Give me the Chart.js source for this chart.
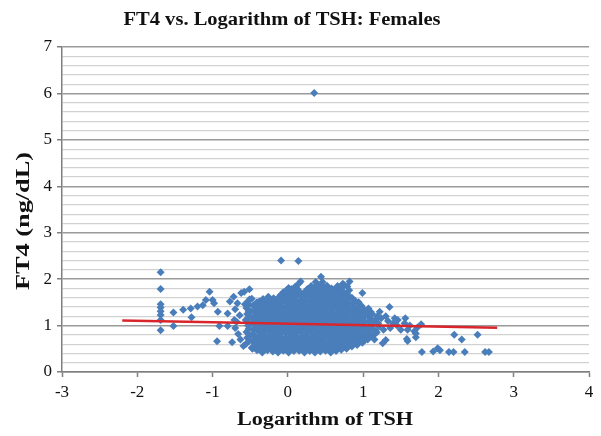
<!DOCTYPE html>
<html>
<head>
<meta charset="utf-8">
<script src="https://cdn.jsdelivr.net/npm/chart.js@4/dist/chart.umd.min.js"></script>
<style>
  html, body { margin: 0; padding: 0; background: #fff; }
  #wrap { width: 601px; height: 436px; }
</style>
</head>
<body>
<div id="wrap"><canvas id="chart" width="601" height="436"></canvas></div>
<script>
// FT4 vs log(TSH), femmes : nuage + droite de tendance.
const chartTitle = 'FT4 vs. Logarithm of TSH: Females';
const xTitle = 'Logarithm of TSH';
const yTitle = 'FT4 (ng/dL)';

// [log TSH, FT4]
const femalePoints = [
  [0.35, 6.01], [-0.09, 2.40], [0.14, 2.39],
  [-1.69, 2.15], [-1.69, 1.79], [-1.69, 1.46], [-1.69, 1.39], [-1.69, 1.31], [-1.69, 1.23], [-1.69, 1.12], [-1.69, 0.90],
  [-1.52, 1.28], [-1.52, 0.99], [-1.39, 1.34], [-1.29, 1.37], [-1.28, 1.18], [-1.20, 1.41], [-1.13, 1.44],
  [-1.09, 1.55], [-1.04, 1.73], [-1.00, 1.55], [-0.98, 1.48], [-0.94, 0.66], [-0.93, 1.30], [-0.91, 0.99],
  [-0.80, 1.26], [-0.80, 0.99], [-0.74, 0.64], [-0.77, 1.52], [-0.72, 1.62], [-0.67, 1.48], [-0.71, 1.12],
  [-0.62, 1.70], [-0.58, 1.73], [-0.51, 1.78], [-0.57, 1.46], [-0.59, 0.56], [-0.47, 0.50],
  [-0.70, 0.95], [-0.68, 1.08], [-0.66, 0.82], [-0.64, 1.22], [-0.63, 0.70], [-0.70, 1.35],
  [0.01, 1.81], [0.17, 1.95], [0.15, 1.91], [0.44, 2.05], [0.75, 1.87], [0.82, 1.95], [0.99, 1.70],
  // nuage dense
  [-0.56, 0.60], [-0.54, 0.74], [-0.55, 0.86], [-0.53, 1.00], [-0.56, 1.12], [-0.54, 1.25], [-0.55, 1.38], [-0.53, 1.52],
  [-0.48, 0.52], [-0.47, 0.66], [-0.49, 0.79], [-0.46, 0.91], [-0.48, 1.05], [-0.47, 1.17], [-0.49, 1.31], [-0.46, 1.43], [-0.48, 1.58],
  [-0.41, 0.47], [-0.40, 0.61], [-0.42, 0.73], [-0.39, 0.87], [-0.41, 0.99], [-0.40, 1.13], [-0.42, 1.26], [-0.39, 1.39], [-0.41, 1.50],
  [-0.34, 0.42], [-0.33, 0.55], [-0.35, 0.68], [-0.32, 0.81], [-0.34, 0.95], [-0.33, 1.07], [-0.35, 1.21], [-0.32, 1.33], [-0.34, 1.46], [-0.33, 1.57],
  [-0.27, 0.47], [-0.26, 0.60], [-0.28, 0.72], [-0.25, 0.86], [-0.27, 0.98], [-0.26, 1.12], [-0.28, 1.24], [-0.25, 1.37], [-0.27, 1.49], [-0.26, 1.62],
  [-0.20, 0.44], [-0.19, 0.57], [-0.21, 0.70], [-0.18, 0.84], [-0.20, 0.96], [-0.19, 1.09], [-0.21, 1.23], [-0.18, 1.35], [-0.20, 1.48], [-0.19, 1.59],
  [-0.13, 0.42], [-0.12, 0.55], [-0.14, 0.69], [-0.11, 0.81], [-0.13, 0.94], [-0.12, 1.08], [-0.14, 1.20], [-0.11, 1.33], [-0.13, 1.47], [-0.12, 1.61],
  [-0.06, 0.46], [-0.05, 0.59], [-0.07, 0.71], [-0.04, 0.85], [-0.06, 0.98], [-0.05, 1.10], [-0.07, 1.24], [-0.04, 1.37], [-0.06, 1.51], [-0.05, 1.63], [-0.06, 1.72],
  [0.01, 0.42], [0.02, 0.55], [0.00, 0.68], [0.03, 0.82], [0.01, 0.94], [0.02, 1.07], [0.00, 1.21], [0.03, 1.33], [0.01, 1.46], [0.02, 1.59], [0.00, 1.70],
  [0.08, 0.45], [0.09, 0.57], [0.07, 0.71], [0.10, 0.83], [0.08, 0.97], [0.09, 1.09], [0.07, 1.23], [0.10, 1.35], [0.08, 1.49], [0.09, 1.61], [0.07, 1.74], [0.10, 1.84],
  [0.15, 0.46], [0.16, 0.60], [0.14, 0.72], [0.17, 0.86], [0.15, 0.98], [0.16, 1.12], [0.14, 1.24], [0.17, 1.37], [0.15, 1.50], [0.16, 1.64], [0.14, 1.76],
  [0.22, 0.42], [0.23, 0.55], [0.21, 0.69], [0.24, 0.81], [0.22, 0.95], [0.23, 1.07], [0.21, 1.20], [0.24, 1.34], [0.22, 1.46], [0.23, 1.60], [0.22, 1.72],
  [0.29, 0.45], [0.30, 0.58], [0.28, 0.71], [0.31, 0.85], [0.29, 0.97], [0.30, 1.10], [0.28, 1.24], [0.31, 1.36], [0.29, 1.49], [0.30, 1.63], [0.28, 1.75], [0.31, 1.85],
  [0.36, 0.42], [0.37, 0.56], [0.35, 0.68], [0.38, 0.81], [0.36, 0.95], [0.37, 1.07], [0.35, 1.21], [0.38, 1.33], [0.36, 1.47], [0.37, 1.59], [0.35, 1.72], [0.38, 1.84], [0.37, 1.94],
  [0.43, 0.44], [0.44, 0.57], [0.42, 0.70], [0.45, 0.84], [0.43, 0.96], [0.44, 1.10], [0.42, 1.22], [0.45, 1.36], [0.43, 1.48], [0.44, 1.62], [0.42, 1.74], [0.45, 1.87],
  [0.50, 0.46], [0.51, 0.59], [0.49, 0.73], [0.52, 0.85], [0.50, 0.99], [0.51, 1.11], [0.49, 1.25], [0.52, 1.37], [0.50, 1.51], [0.51, 1.63], [0.49, 1.76], [0.52, 1.86],
  [0.57, 0.42], [0.58, 0.55], [0.56, 0.68], [0.59, 0.82], [0.57, 0.94], [0.58, 1.08], [0.56, 1.20], [0.59, 1.34], [0.57, 1.46], [0.58, 1.60], [0.56, 1.72], [0.58, 1.80],
  [0.64, 0.45], [0.65, 0.58], [0.63, 0.72], [0.66, 0.84], [0.64, 0.98], [0.65, 1.10], [0.63, 1.24], [0.66, 1.36], [0.64, 1.50], [0.65, 1.62], [0.63, 1.75], [0.66, 1.85],
  [0.71, 0.48], [0.72, 0.61], [0.70, 0.75], [0.73, 0.87], [0.71, 1.01], [0.72, 1.13], [0.70, 1.27], [0.73, 1.39], [0.71, 1.53], [0.72, 1.65], [0.70, 1.78], [0.73, 1.90],
  [0.78, 0.50], [0.79, 0.63], [0.77, 0.77], [0.80, 0.89], [0.78, 1.03], [0.79, 1.15], [0.77, 1.29], [0.80, 1.41], [0.78, 1.55], [0.79, 1.68], [0.79, 1.84],
  [0.85, 0.55], [0.86, 0.68], [0.84, 0.82], [0.87, 0.94], [0.85, 1.08], [0.86, 1.20], [0.84, 1.34], [0.87, 1.47], [0.85, 1.60],
  [0.92, 0.58], [0.93, 0.72], [0.91, 0.84], [0.94, 0.98], [0.92, 1.10], [0.93, 1.24], [0.91, 1.36], [0.94, 1.50],
  [0.99, 0.63], [1.00, 0.76], [0.98, 0.90], [1.01, 1.02], [0.99, 1.16], [1.00, 1.28], [0.98, 1.42],
  [1.06, 0.70], [1.07, 0.84], [1.05, 0.96], [1.08, 1.10], [1.06, 1.22], [1.07, 1.37],
  [1.13, 0.78], [1.12, 0.95], [1.14, 1.08], [1.12, 1.25],
  // deuxième couche du nuage (entre les précédents)
  [-0.515, 0.67], [-0.51, 0.80], [-0.52, 0.93], [-0.515, 1.06], [-0.51, 1.19], [-0.52, 1.31], [-0.515, 1.45], [-0.51, 1.56],
  [-0.445, 0.54], [-0.44, 0.67], [-0.45, 0.80], [-0.445, 0.93], [-0.44, 1.06], [-0.45, 1.19], [-0.445, 1.32], [-0.44, 1.45],
  [-0.375, 0.49], [-0.37, 0.62], [-0.38, 0.75], [-0.375, 0.88], [-0.37, 1.01], [-0.38, 1.14], [-0.375, 1.27], [-0.37, 1.40], [-0.38, 1.52],
  [-0.305, 0.50], [-0.30, 0.63], [-0.31, 0.76], [-0.305, 0.89], [-0.30, 1.02], [-0.31, 1.15], [-0.305, 1.28], [-0.30, 1.41], [-0.31, 1.53],
  [-0.235, 0.52], [-0.23, 0.65], [-0.24, 0.78], [-0.235, 0.91], [-0.23, 1.04], [-0.24, 1.17], [-0.235, 1.30], [-0.23, 1.43], [-0.24, 1.55],
  [-0.165, 0.49], [-0.16, 0.62], [-0.17, 0.75], [-0.165, 0.88], [-0.16, 1.01], [-0.17, 1.14], [-0.165, 1.28], [-0.16, 1.41], [-0.17, 1.54],
  [-0.095, 0.50], [-0.09, 0.63], [-0.10, 0.76], [-0.095, 0.89], [-0.09, 1.02], [-0.10, 1.15], [-0.095, 1.29], [-0.09, 1.42], [-0.10, 1.56], [-0.095, 1.66],
  [-0.025, 0.48], [-0.02, 0.62], [-0.03, 0.75], [-0.025, 0.88], [-0.02, 1.01], [-0.03, 1.14], [-0.025, 1.27], [-0.02, 1.40], [-0.03, 1.53], [-0.025, 1.65], [-0.02, 1.76],
  [0.045, 0.50], [0.05, 0.62], [0.04, 0.76], [0.045, 0.89], [0.05, 1.02], [0.04, 1.15], [0.045, 1.28], [0.05, 1.41], [0.04, 1.54], [0.045, 1.67], [0.05, 1.79],
  [0.115, 0.51], [0.12, 0.64], [0.11, 0.77], [0.115, 0.90], [0.12, 1.03], [0.11, 1.16], [0.115, 1.29], [0.12, 1.42], [0.11, 1.55], [0.115, 1.68], [0.12, 1.80],
  [0.185, 0.50], [0.19, 0.63], [0.18, 0.76], [0.185, 0.89], [0.19, 1.02], [0.18, 1.15], [0.185, 1.28], [0.19, 1.41], [0.18, 1.54], [0.185, 1.67],
  [0.255, 0.49], [0.26, 0.62], [0.25, 0.75], [0.255, 0.88], [0.26, 1.01], [0.25, 1.14], [0.255, 1.28], [0.26, 1.41], [0.25, 1.54], [0.255, 1.67], [0.26, 1.79],
  [0.325, 0.50], [0.33, 0.63], [0.32, 0.76], [0.325, 0.89], [0.33, 1.02], [0.32, 1.15], [0.325, 1.28], [0.33, 1.41], [0.32, 1.54], [0.325, 1.67], [0.33, 1.80],
  [0.395, 0.49], [0.40, 0.62], [0.39, 0.75], [0.395, 0.88], [0.40, 1.01], [0.39, 1.14], [0.395, 1.27], [0.40, 1.40], [0.39, 1.53], [0.395, 1.66], [0.40, 1.78], [0.39, 1.89],
  [0.465, 0.51], [0.47, 0.64], [0.46, 0.77], [0.465, 0.90], [0.47, 1.03], [0.46, 1.16], [0.465, 1.29], [0.47, 1.42], [0.46, 1.55], [0.465, 1.68], [0.47, 1.80], [0.46, 1.94],
  [0.535, 0.50], [0.54, 0.63], [0.53, 0.76], [0.535, 0.89], [0.54, 1.02], [0.53, 1.15], [0.535, 1.28], [0.54, 1.41], [0.53, 1.54], [0.535, 1.67], [0.54, 1.79],
  [0.605, 0.49], [0.61, 0.62], [0.60, 0.75], [0.605, 0.88], [0.61, 1.01], [0.60, 1.14], [0.605, 1.27], [0.61, 1.40], [0.60, 1.53], [0.605, 1.66], [0.61, 1.77],
  [0.675, 0.52], [0.68, 0.65], [0.67, 0.78], [0.675, 0.91], [0.68, 1.04], [0.67, 1.17], [0.675, 1.30], [0.68, 1.43], [0.67, 1.56], [0.675, 1.69], [0.68, 1.81],
  [0.745, 0.55], [0.75, 0.68], [0.74, 0.81], [0.745, 0.94], [0.75, 1.07], [0.74, 1.20], [0.745, 1.33], [0.75, 1.46], [0.74, 1.59], [0.745, 1.72],
  [0.815, 0.57], [0.82, 0.70], [0.81, 0.83], [0.815, 0.96], [0.82, 1.09], [0.81, 1.22], [0.815, 1.35], [0.82, 1.48], [0.81, 1.62], [0.815, 1.76],
  [0.885, 0.62], [0.89, 0.75], [0.88, 0.88], [0.885, 1.01], [0.89, 1.14], [0.88, 1.27], [0.885, 1.40], [0.89, 1.54],
  [0.955, 0.66], [0.96, 0.79], [0.95, 0.92], [0.955, 1.05], [0.96, 1.18], [0.95, 1.31], [0.955, 1.44],
  [1.025, 0.69], [1.03, 0.82], [1.02, 0.95], [1.025, 1.08], [1.03, 1.21], [1.02, 1.33],
  [1.095, 0.77], [1.10, 0.90], [1.09, 1.02], [1.095, 1.16], [1.10, 1.30],
  [1.17, 0.88], [1.18, 1.15], [1.21, 0.98], [1.19, 1.20],
  // queue à droite
  [1.35, 1.40], [1.24, 1.16], [1.30, 1.20], [1.42, 1.16], [1.46, 1.12], [1.56, 1.16], [1.50, 0.91], [1.59, 0.91],
  [1.68, 0.88], [1.72, 0.96], [1.77, 1.03], [1.27, 0.91], [1.36, 0.95], [1.26, 0.62], [1.30, 0.69], [1.58, 0.71],
  [1.59, 0.67], [1.70, 0.75], [1.70, 0.83], [1.78, 0.43], [1.93, 0.44], [1.99, 0.51], [2.02, 0.47], [2.14, 0.43],
  [2.20, 0.43], [2.21, 0.80], [2.31, 0.70], [2.35, 0.43], [2.52, 0.80], [2.62, 0.43], [2.67, 0.43],
  [1.20, 1.05], [1.18, 0.85], [1.15, 0.70], [1.22, 1.30], [1.40, 1.05], [1.45, 1.00], [1.55, 1.05], [1.62, 1.00], [1.33, 1.10],
];

// droite de régression (extrémités)
const trendX = [-2.2, 2.78];
const trendY = [1.11, 0.955];

const xMin = -3, xMax = 4, yMin = 0, yMax = 7;
const minorStep = 0.2;

const serif = "'Liberation Serif', 'Times New Roman', serif";
const isMajor = (v) => Math.abs(v - Math.round(v)) < 1e-6;

// texte étiré horizontalement, comme sur la figure d'origine
function stretchedText(ctx, text, cx, baseY, width) {
  const w = ctx.measureText(text).width;
  ctx.save();
  ctx.translate(cx, baseY);
  ctx.scale(width / w, 1);
  ctx.textAlign = 'center';
  ctx.textBaseline = 'alphabetic';
  ctx.fillText(text, 0, 0);
  ctx.restore();
}

const titlesPlugin = {
  id: 'titles',
  afterDraw(chart) {
    const { ctx } = chart;
    ctx.save();
    ctx.fillStyle = '#111';
    ctx.font = `bold 18px ${serif}`;
    stretchedText(ctx, chartTitle, 282, 25, 317);
    stretchedText(ctx, xTitle, 325, 425, 176);
    ctx.translate(28.5, 221);
    ctx.rotate(-Math.PI / 2);
    stretchedText(ctx, yTitle, 0, 0, 138);
    ctx.restore();
  },
};

new Chart(document.getElementById('chart'), {
  type: 'scatter',
  data: {
    datasets: [
      {
        type: 'line',
        data: trendX.map((x, i) => ({ x, y: trendY[i] })),
        borderColor: '#d9262c', borderWidth: 2.5, pointRadius: 0, fill: false, order: 0,
      },
      {
        data: femalePoints.map(([x, y]) => ({ x, y })),
        pointStyle: 'rectRot', pointRadius: 4, backgroundColor: '#4a7ebb', borderWidth: 0, order: 1,
      },
    ],
  },
  options: {
    responsive: false, animation: false,
    layout: { padding: { left: 0, right: 12, top: 47, bottom: 0 } },
    plugins: { legend: { display: false }, tooltip: { enabled: false } },
    scales: {
      x: {
        type: 'linear', min: xMin, max: xMax,
        afterFit: (s) => { s.height = 64; },
        border: { color: '#7f7f7f', width: 1.5 },
        grid: { drawOnChartArea: false, drawTicks: true, tickLength: 5, tickColor: '#7f7f7f', tickWidth: 1.5 },
        ticks: { stepSize: 1, padding: 5, color: '#111', font: { family: serif, size: 17 } },
      },
      y: {
        type: 'linear', min: yMin, max: yMax,
        afterFit: (s) => { s.width = 62; },
        border: { color: '#7f7f7f', width: 1.5 },
        grid: {
          color: (c) => (isMajor(c.tick.value) ? '#9a9a9a' : '#d2d2d2'),
          lineWidth: (c) => (isMajor(c.tick.value) ? 1.5 : 1.2),
          tickLength: 5,
          tickColor: (c) => (isMajor(c.tick.value) ? '#7f7f7f' : 'rgba(0,0,0,0)'),
        },
        ticks: {
          stepSize: minorStep, autoSkip: false, padding: 5, color: '#111',
          font: { family: serif, size: 17 },
          callback: (v) => (isMajor(v) ? String(Math.round(v)) : ''),
        },
      },
    },
  },
  plugins: [titlesPlugin],
});
</script>
</body>
</html>
